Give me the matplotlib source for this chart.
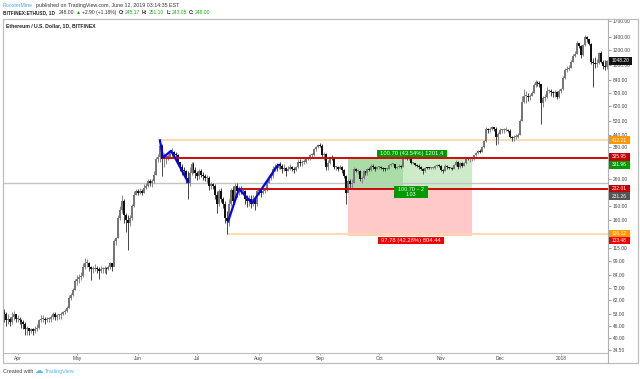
import matplotlib
matplotlib.use("Agg")
import matplotlib.pyplot as plt
from matplotlib.patches import Rectangle

plt.rcParams['font.family'] = ['Liberation Sans', 'DejaVu Sans']

closes = [53,49,50,48,51,53,50,
 50,49,48,47,44,45,43,44,43,44,45,49,50,50,49,50,50,51,53,51,52,52,53,54,55,57,64,66,70,78,
 80,82,83,92,97,97,92,90,90,91,90,88,90,90,91,90,92,96,92,125,130,165,180,200,170,160,155,165,190,215,225,
 220,225,222,235,240,255,250,255,275,330,340,385,330,340,340,340,355,360,350,345,320,300,290,285,265,250,280,310,290,280,
 270,285,275,270,265,265,240,245,240,215,195,225,205,195,165,158,195,230,200,240,225,230,225,225,205,200,205,195,205,195,225,
 225,220,225,228,250,265,270,295,300,298,310,305,295,298,285,295,300,295,290,300,320,315,320,320,330,330,345,345,370,380,390,
 385,345,350,300,315,335,330,300,300,295,300,290,270,220,255,245,250,295,285,285,260,265,285,280,295,290,305,300,295,300,
 300,297,295,292,295,308,310,310,297,300,305,302,335,340,335,335,315,315,307,305,300,295,285,298,297,296,296,296,305,306,305,
 290,288,305,300,297,298,295,308,320,300,315,305,315,335,330,330,330,345,355,365,360,380,410,470,465,470,480,470,430,445,
 465,465,465,465,460,430,425,430,430,440,520,650,700,700,690,695,720,790,820,810,800,640,680,690,740,740,730,720,730,690,740,
 760,860,950,960,970,1040,1120,1150,1300,1260,1130,1270,1400,1360,1290,1040,1030,1020,1030,1160,1040,990,985,1048.2]

highs = [56,54,53,51,54,55,53,
 52,51,50,49,48,46,45,45,45,46,47,50,52,52,51,51,51,52,54,54,53,53,54,55,56,58,66,68,72,80,
 84,85,87,96,102,101,98,93,93,95,93,92,93,92,93,92,94,98,97,128,132,170,190,215,205,175,170,170,195,225,232,
 232,235,232,245,250,262,262,262,285,340,350,412,395,355,350,352,365,375,365,360,350,320,310,300,290,285,300,320,320,300,
 285,295,292,282,278,275,270,252,250,245,225,232,235,210,200,178,205,235,240,250,250,240,240,235,228,215,215,215,215,210,232,
 232,232,232,235,255,270,280,305,310,310,315,320,310,310,300,305,310,305,300,305,330,330,325,330,335,335,350,355,375,385,395,
 398,395,360,355,325,340,345,338,305,305,308,305,295,275,262,260,260,300,298,295,290,270,290,285,298,300,310,310,305,305,
 305,303,300,298,298,310,315,315,312,305,310,308,342,345,342,340,338,320,316,310,310,305,298,302,300,300,300,300,308,310,310,
 308,295,312,308,302,302,300,312,328,322,318,318,320,338,338,335,335,348,358,368,372,385,415,482,478,480,490,482,480,455,
 475,470,475,480,472,470,435,440,445,450,530,700,760,740,720,715,740,810,845,830,830,805,700,710,770,760,760,740,745,735,760,
 765,880,965,990,1000,1060,1150,1180,1340,1310,1270,1290,1430,1420,1360,1300,1090,1100,1080,1170,1180,1060,1060,1070]

lows = [48,46,47,46,47,49,48,
 48,47,45,44,41,41,41,42,41,42,43,44,48,48,47,48,48,48,50,49,49,50,50,52,53,54,57,62,65,70,
 74,76,79,82,90,92,88,79,86,88,86,80,86,86,86,85,89,90,88,93,120,130,160,175,155,140,112,150,160,188,215,
 215,218,215,220,232,238,240,238,250,272,320,320,270,300,310,325,335,340,335,325,310,285,275,270,250,207,240,275,280,265,
 258,262,268,258,255,250,230,232,232,205,175,190,198,185,155,136,150,190,192,205,210,215,218,218,195,188,190,185,190,180,190,
 215,212,218,222,225,248,258,265,285,285,295,295,280,285,270,285,290,285,280,288,298,305,305,312,315,325,328,335,342,365,378,
 380,340,325,290,290,310,325,295,290,285,292,280,265,195,225,232,235,248,282,278,255,250,262,272,275,285,288,295,285,292,
 295,292,288,286,290,292,305,306,295,295,298,298,302,332,325,328,312,310,303,300,295,290,278,283,292,292,292,292,295,300,300,
 285,280,288,295,293,293,290,293,305,295,298,300,303,312,325,320,322,328,342,350,355,358,378,405,450,455,465,460,390,395,
 445,450,450,460,455,425,410,410,418,425,440,520,640,640,660,665,695,720,770,780,770,500,610,660,680,720,700,690,690,670,680,
 720,750,850,930,950,970,1040,1110,1140,1230,1090,1120,1260,1320,1270,1020,773,970,980,1020,1030,960,950,960]

opens = [54] + closes[:-1]

price_ticks = [1700,1400,1200,1000,840,720,620,520,440,380,260,190,160,115,99,84,72,62,53,46,40,34.5]
month_idx = [7,37,68,98,129,160,190,221,251,282]
month_lbl = ['Apr','May','Jun','Jul','Aug','Sep','Oct','Nov','Dec','2018']

zig1_x = [79,80.6,84.6,86.6,93.2]
zig1_y = [412,336,364,336,252]
zig2_x = [113.5,119,125.6,138.7]
zig2_y = [158,232,196,308]

entry, target, stop, last = 232.01, 335.95, 133.48, 248.0
upper_o, lower_o = 412.21, 136.12
box_start, box_mid, box_end = 174.2, 202, 237

W, H = 640, 379
fig = plt.figure(figsize=(6.4, 3.79), dpi=100, facecolor='white')
ax = fig.add_axes([3/W, 1-352.5/H, 605/W, 334/H])
ax.set_yscale('log')
ax.set_ylim(33.5, 1741)
ax.set_xlim(-0.35, 305.66)
ax.minorticks_off()

ax.add_patch(Rectangle((box_start, entry), box_mid-box_start, target-entry, fc='#a9dca6', ec='none', zorder=1))
ax.add_patch(Rectangle((box_mid, entry), box_end-box_mid, target-entry, fc='#cdebc9', ec='none', zorder=1))
ax.add_patch(Rectangle((box_start, stop), box_end-box_start, entry-stop, fc='#ffc9c9', ec='none', zorder=1))

ax.axhline(last, color='#c4c4c4', lw=1.0, zorder=1.5)
ax.plot([79, 306], [upper_o, upper_o], color='#ffd9a6', lw=1.3, zorder=1.6)
ax.plot([113.5, 306], [lower_o, lower_o], color='#ffd9a6', lw=1.3, zorder=1.6)

for i, (o, h, l, c) in enumerate(zip(opens, highs, lows, closes)):
    down = c < o
    ax.vlines(i, l, h, color='#444444' if down else '#888888', lw=0.7, zorder=2)
    ax.bar(i, max(abs(c-o), 0.012*c), bottom=min(o, c), width=1.0,
           color='#111111' if down else '#777777', lw=0, zorder=2.1)

ax.plot([80.6, 306], [target, target], color='#cc0a0a', lw=1.4, zorder=3)
ax.plot([119, 306], [entry, entry], color='#cc0a0a', lw=1.4, zorder=3)
ax.plot(zig1_x, zig1_y, color='#0505e8', lw=1.6, zorder=4)
ax.plot(zig2_x, zig2_y, color='#0505e8', lw=1.6, zorder=4)

for s in ['top', 'left', 'right']:
    ax.spines[s].set_visible(False)
ax.spines['bottom'].set_color('#bdbdbd')
ax.spines['bottom'].set_linewidth(0.8)

ax.set_yticks(price_ticks)
ax.set_yticklabels([f'{p:.2f}' for p in price_ticks])
ax.yaxis.tick_right()
ax.tick_params(axis='y', length=2, width=0.4, color='#555555', labelsize=3.5, labelcolor='#444444', pad=1.2)
ax.set_xticks(month_idx)
ax.set_xticklabels(month_lbl)
ax.tick_params(axis='x', length=1.5, width=0.4, color='#888888', labelsize=3.5, labelcolor='#444444', pad=1.2)

def px(x, y):
    return x/W, 1-y/H

def T(x, y, s, size=3.6, color='#222222', weight='normal', ha='left', va='center', **kw):
    return fig.text(*px(x, y), s, fontsize=size, color=color, fontweight=weight, ha=ha, va=va, **kw)

def box(x0, y0, x1, y1, fc, zorder=6):
    fig.add_artist(Rectangle((x0/W, 1-y1/H), (x1-x0)/W, (y1-y0)/H, transform=fig.transFigure, fc=fc, ec='none', zorder=zorder))

fig.add_artist(Rectangle((3/W, 1-363/H), 634.5/W, 344.5/H, transform=fig.transFigure, fc='none', ec='#bdbdbd', lw=0.9, zorder=5))
fig.add_artist(plt.Line2D([608/W, 608/W], [1-363/H, 1-18.5/H], color='#b0b0b0', lw=0.8, zorder=5))

badges = [(61, '1048.20', '#111111', 632), (140, '412.21', '#ff9800', 630), (157, '335.95', '#c40000', 630),
          (165, '331.96', '#009900', 630), (188.5, '232.01', '#c40000', 630), (196, '231.26', '#555555', 630),
          (233.5, '136.12', '#ff9800', 630), (240.5, '133.48', '#f00000', 630)]
for y, s, c, xe in badges:
    box(609, y-3.6, xe, y+3.6, c)
    T(612, y, s, size=3.5, color='white').set_zorder(7)

box(377, 150, 447, 157.5, '#009900')
T(412, 153.8, '100.70 (43.54%) 1201.4', size=4.2, color='white', ha='center').set_zorder(7)
box(394, 186, 428, 198, '#009900')
T(411, 192, '100.70 ~ 2\n1.03', size=3.9, color='white', ha='center', linespacing=0.95).set_zorder(7)
box(378, 236.5, 444, 244, '#f50000')
T(411, 240.4, '97.78 (42.28%) 804.44', size=4.2, color='white', ha='center').set_zorder(7)

T(3, 5.5, 'RoosterMine', color='#4aa8e8', size=3.8)
T(36, 5.5, 'published on TradingView.com, June 12, 2019 03:14:35 EST', color='#333333', size=3.8)
T(3, 12.3, 'BITFINEX:ETHUSD, 1D', weight='bold', size=3.4)
T(58.5, 12.3, '248.00', size=3.6, color='#333333')
T(75.5, 12.3, '▲', size=3.7, color='#109910')
T(82.5, 12.3, '+2.90 (+1.18%)', size=3.6, color='#333333')
for x, s, c, w in [(119, 'O:', '#222222', 'bold'), (125, '245.17', '#22aa22', 'normal'),
                   (142, 'H:', '#222222', 'bold'), (148.5, '251.10', '#22aa22', 'normal'),
                   (166.5, 'L:', '#222222', 'bold'), (171.5, '243.05', '#22aa22', 'normal'),
                   (189, 'C:', '#222222', 'bold'), (195, '248.00', '#22aa22', 'normal')]:
    T(x, 12.3, s, color=c, weight=w, size=3.6)
T(6, 25.2, 'Ethereum / U.S. Dollar, 1D, BITFINEX', weight='bold', size=3.7)

T(3, 371.5, 'Created with', color='#444444', size=3.9)
T(44.5, 371.5, 'TradingView', color='#55b8ea', size=3.9)
T(35, 371.3, '☁', color='#55b8ea', size=6)

fig.savefig('out.png', dpi=100, facecolor='white')
